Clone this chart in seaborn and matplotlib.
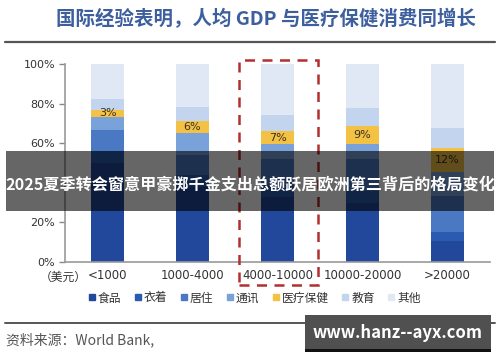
import matplotlib
matplotlib.use("Agg")
import matplotlib.pyplot as plt
import seaborn as sns
import pandas as pd
import numpy as np
from matplotlib.patches import Rectangle
from matplotlib.lines import Line2D

# ---- data ----
categories = ["<1000", "1000-4000", "4000-10000", "10000-20000", ">20000"]
series_names = ["食品", "衣着", "居住", "通讯", "医疗保健", "教育", "其他"]
food      = [50.0, 38.0, 33.0, 30.0, 10.6]
clothing  = [6.0, 6.0, 6.0, 6.0, 4.7]
housing   = [10.7, 10.0, 13.0, 16.0, 18.0]
telecom   = [6.7, 11.3, 7.4, 7.4, 12.1]
medical   = [3.4, 6.1, 6.8, 9.3, 12.0]
education = [5.5, 7.0, 8.0, 8.9, 10.1]
other     = [17.7, 21.6, 25.8, 22.4, 32.5]
medical_labels = ["3%", "6%", "7%", "9%", "12%"]
y_ticks = [0, 20, 40, 60, 80, 100]
# the 40% label is hidden under the overlay banner in the reference
y_tick_labels = ["0%", "20%", "", "60%", "80%", "100%"]
highlight_index = 2

colors = ["#21489a", "#2a5bb0", "#4a78c2", "#79a2da", "#f3c244", "#c3d4ee", "#e0e8f5"]

title = "国际经验表明，人均 GDP 与医疗保健消费同增长"
source = "资料来源：World Bank,"
banner_text = "2025夏季转会窗意甲豪掷千金支出总额跃居欧洲第三背后的格局变化"
watermark = "www.hanz--ayx.com"
unit_label = "（美元）"

# ---- setup ----
sns.set_style("white")
plt.rcParams["font.family"] = ["Noto Sans CJK SC", "DejaVu Sans"]

W, H = 500, 362
fig = plt.figure(figsize=(W / 100, H / 100), dpi=100)
ax = fig.add_axes([65 / W, 1 - 262 / H, (490 - 65) / W, (262 - 64) / H])

series = [food, clothing, housing, telecom, medical, education, other]
cum = np.cumsum(np.array(series), axis=0)

# draw stacked bars from top layer down
for i in range(len(series) - 1, -1, -1):
    df = pd.DataFrame({"cat": categories, "val": cum[i]})
    sns.barplot(data=df, x="cat", y="val", color=colors[i], width=0.39,
                ax=ax, saturation=1, linewidth=0, zorder=2)

# labels for medical segment
for j, lab in enumerate(medical_labels):
    yc = cum[3][j] + medical[j] / 2
    ax.text(j, yc, lab, ha="center", va="center", fontsize=8,
            color="#3a3020", family=["DejaVu Sans"], zorder=4)

ax.set_xlim(-0.5, len(categories) - 0.5)
ax.set_ylim(0, 100)
ax.set_yticks(y_ticks)
ax.set_yticklabels(y_tick_labels, fontsize=8, color="#333333", family=["DejaVu Sans"])
ax.set_xticks(range(len(categories)))
ax.set_xticklabels(categories, fontsize=8.5, color="#333333", family=["DejaVu Sans"])
ax.set_xticks(np.arange(0.5, len(categories) - 0.5, 1), minor=True)
ax.tick_params(axis="x", which="major", length=0, pad=5)
ax.tick_params(axis="x", which="minor", length=4, direction="out", color="#888888", width=1)
ax.tick_params(axis="y", length=4, direction="out", color="#888888", width=1, pad=3, left=True)
ax.set_xlabel("")
ax.set_ylabel("")
for s in ["top", "right"]:
    ax.spines[s].set_visible(False)
for s in ["left", "bottom"]:
    ax.spines[s].set_color("#999999")
    ax.spines[s].set_linewidth(1.2)

# highlight dashed box around the highlighted category
rect = Rectangle((highlight_index - 0.455, -11.5), 0.93, 113.5, fill=False,
                 edgecolor="#b22f2f", linestyle=(0, (4, 3)), linewidth=1.8,
                 clip_on=False, zorder=5)
ax.add_patch(rect)

# unit label
fig.text(87 / W, 1 - 277 / H, unit_label, fontsize=8.5, color="#333333", va="center", ha="right")

# legend
handles = [Line2D([0], [0], marker="s", linestyle="", markersize=5,
                  markerfacecolor=c, markeredgecolor=c) for c in colors]
fig.legend(handles, series_names, loc="center", bbox_to_anchor=(254 / W, 1 - 298 / H),
           ncol=7, frameon=False, fontsize=8.5, handletextpad=0.1, columnspacing=1.0,
           handlelength=0.8, labelcolor="#333333")

# title and rules
fig.text(266 / W, 1 - 19 / H, title, fontsize=14, color="#3d5f9e",
         ha="center", va="center", fontweight="bold")
fig.add_artist(Line2D([5 / W, 495 / W], [1 - 42 / H, 1 - 42 / H],
                      transform=fig.transFigure, color="#555555", linewidth=1.6))
fig.add_artist(Line2D([5 / W, 495 / W], [1 - 323 / H, 1 - 323 / H],
                      transform=fig.transFigure, color="#555555", linewidth=1.4))
fig.text(6 / W, 1 - 340 / H, source, fontsize=10, color="#555555", ha="left", va="center")

# overlay banner
fig.add_artist(Rectangle((6 / W, 1 - 211 / H), 488 / W, 60 / H, transform=fig.transFigure,
                         facecolor="black", alpha=0.6, edgecolor="none", zorder=10))
fig.text(250 / W, 1 - 184 / H, banner_text, fontsize=11.6, color="white", fontweight="bold",
         ha="center", va="center", zorder=11)

# watermark box
fig.add_artist(Rectangle((305 / W, 1 - 352 / H), 186 / W, 37 / H, transform=fig.transFigure,
                         facecolor="#505050", edgecolor="none", zorder=10))
fig.add_artist(Rectangle((305 / W, 1 - 352 / H), 186 / W, 3 / H, transform=fig.transFigure,
                         facecolor="#111111", edgecolor="none", zorder=10))
fig.text(398 / W, 1 - 333 / H, watermark, fontsize=12, color="white", fontweight="bold",
         ha="center", va="center", zorder=11)

fig.savefig("out.png", dpi=100)
